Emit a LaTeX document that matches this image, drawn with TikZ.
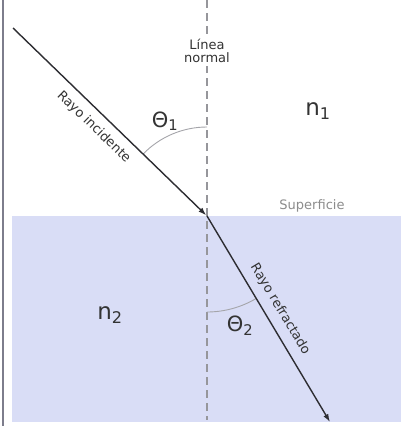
\documentclass[tikz,border=0pt]{standalone}
\usepackage{fontspec}
\setmainfont{DejaVu Sans}
\usetikzlibrary{arrows.meta,calc}
\definecolor{water}{RGB}{217,221,246}
\definecolor{raycol}{RGB}{45,45,50}
\definecolor{normcol}{RGB}{150,150,155}
\definecolor{arccol}{RGB}{165,165,170}
\definecolor{bordercol}{RGB}{125,125,140}
\tikzset{
  ray/.style={draw=raycol, line width=1.4pt, -{Latex[length=8pt,width=5.5pt]}},
  normalline/.style={draw=normcol, line width=1.8pt, dash pattern=on 8pt off 5pt},
  anglearc/.style={draw=arccol, line width=0.9pt},
  lbl/.style={font=\fontsize{13}{13.5}\selectfont, text=black!80, inner sep=3pt},
  big/.style={font=\fontsize{23}{23}\selectfont, text=black!80, inner sep=0pt},
  theta/.style={font=\fontsize{21}{21}\selectfont, text=black!80, inner sep=0pt},
}
\begin{document}
\begin{tikzpicture}[x=1pt, y=-1pt]
\useasboundingbox (0,0) rectangle (401,426);
\fill[white] (0,0) rectangle (401,426);
% medium 2
\fill[water] (12,216) rectangle (401,422);
% left border
\draw[bordercol, line width=2pt] (3,0) -- (3,426);
% points
\coordinate (O) at (207,216);
\coordinate (A) at (13,28);
\coordinate (B) at (330,422);
\coordinate (Ntop) at (207,0);
\coordinate (Nbot) at (207,420);
% normal
\draw[normalline] (Ntop) -- (Nbot);
\node[lbl, fill=white, align=center] (normlbl) at (207,51) {Línea\\normal};
% angle arcs
\draw[anglearc] ($(O)+(-90:89)$) arc[start angle=-90, end angle=-135.9, radius=89];
\draw[anglearc] ($(O)+(90:96)$) arc[start angle=90, end angle=59.2, radius=96];
% rays
\draw[ray, shorten >=1pt] (A) -- (O) node[lbl, pos=0.47, sloped, below=5pt] (inclbl) {Rayo incidente};
\draw[ray] (O) -- (B) node[lbl, pos=0.49, sloped, above=5pt] (reflbl) {Rayo refractado};
% labels
\node[lbl, text=black!45] (surf) at (312,206) {Superficie};
\node[theta] (t1) at (165,121) {Θ\textsubscript{1}};
\node[theta] (t2) at (240,326) {Θ\textsubscript{2}};
\node[big] (n1) at (318,111) {n\textsubscript{1}};
\node[big] (n2) at (110,315) {n\textsubscript{2}};
\end{tikzpicture}
\end{document}
